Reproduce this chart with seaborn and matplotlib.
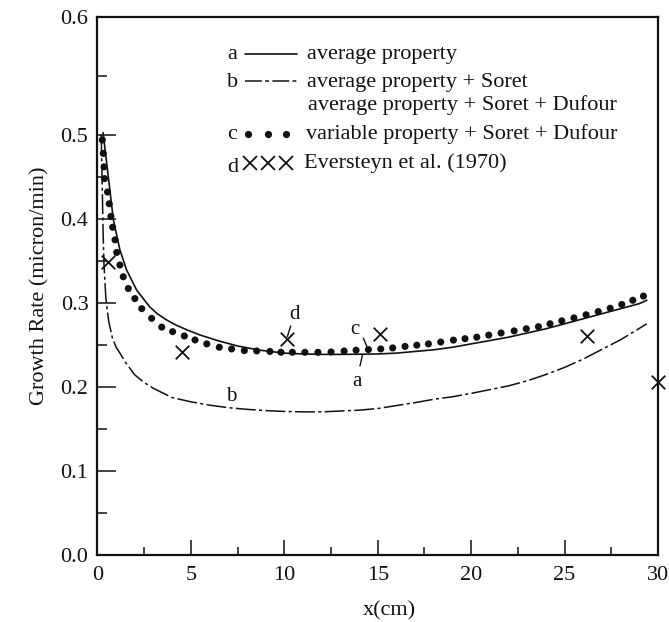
import numpy as np
import pandas as pd
import matplotlib
matplotlib.use("Agg")
import matplotlib.pyplot as plt
import seaborn as sns
from matplotlib.ticker import MultipleLocator, FormatStrFormatter, FuncFormatter

# ---------------- data ----------------
x_a = [0.3, 0.58, 0.85, 1.2, 1.56, 2.1, 2.8, 3.2, 3.7, 4.2, 4.8, 5.5, 6.5, 7.5, 8.7, 10, 11,
       12, 13, 14, 15, 16, 17, 18, 19, 20, 21, 22, 23, 24, 25, 26, 27, 28, 29, 29.4]
y_a = [0.502, 0.450, 0.399, 0.363, 0.339, 0.315, 0.295, 0.287, 0.2795, 0.2735, 0.2676,
       0.2615, 0.2545, 0.2485, 0.2435, 0.240, 0.239, 0.2385, 0.2385, 0.2387, 0.239, 0.240,
       0.242, 0.244, 0.247, 0.251, 0.255, 0.259, 0.264, 0.269, 0.275, 0.281, 0.287, 0.293,
       0.299, 0.303]

x_b = [0.2, 0.25, 0.3, 0.35, 0.45, 0.6, 0.8, 1.0, 1.2, 1.5, 2, 2.5, 3, 4, 5, 6, 7, 8, 9, 10,
       11, 12, 13, 14, 15, 16, 17, 18, 19, 20, 21, 22, 23, 24, 25, 26, 27, 28, 29, 29.4]
y_b = [0.50, 0.445, 0.385, 0.345, 0.305, 0.278, 0.258, 0.247, 0.240, 0.229, 0.214, 0.205,
       0.198, 0.187, 0.182, 0.178, 0.175, 0.173, 0.1715, 0.1705, 0.170, 0.170, 0.171, 0.172,
       0.174, 0.1775, 0.181, 0.185, 0.188, 0.192, 0.1965, 0.201, 0.207, 0.2145, 0.223, 0.233,
       0.2445, 0.256, 0.2695, 0.275]

x_c = [0.26, 0.31, 0.35, 0.38, 0.54, 0.63, 0.72, 0.81, 0.94, 1.03, 1.2, 1.38, 1.65, 2.0,
       2.37, 2.9, 3.44, 4.02, 4.65, 5.22, 5.85, 6.52, 7.18, 7.86, 8.52, 9.23, 9.82, 10.43,
       11.1, 11.8, 12.5, 13.2, 13.84, 14.5, 15.16, 15.8, 16.46, 17.09, 17.71, 18.37, 19.05,
       19.67, 20.3, 20.94, 21.6, 22.3, 22.95, 23.6, 24.22, 24.85, 25.5, 26.15, 26.8, 27.44,
       28.06, 28.65, 29.22]
y_c = [0.494, 0.478, 0.462, 0.448, 0.432, 0.418, 0.403, 0.390, 0.375, 0.360, 0.345, 0.331,
       0.317, 0.305, 0.293, 0.2815, 0.271, 0.2656, 0.2604, 0.2557, 0.251, 0.247, 0.245, 0.243,
       0.2426, 0.242, 0.241, 0.241, 0.241, 0.241, 0.2414, 0.2425, 0.2435, 0.2442, 0.245,
       0.2462, 0.248, 0.2495, 0.251, 0.2532, 0.2555, 0.2572, 0.259, 0.2615, 0.264, 0.2665,
       0.269, 0.2715, 0.275, 0.2785, 0.282, 0.2857, 0.2895, 0.2935, 0.298, 0.303, 0.308]

x_d = [0.56, 4.5, 10.16, 15.12, 26.19, 30.0]
y_d = [0.349, 0.2414, 0.2574, 0.2625, 0.260, 0.205]

legend_letters = ["a", "b", "", "c", "d"]
legend_labels = ["average property", "average property + Soret",
                 "average property + Soret + Dufour",
                 "variable property + Soret + Dufour", "Eversteyn et al. (1970)"]

x_ticks = [0, 5, 10, 15, 20, 25, 30]
y_ticks = [0.0, 0.1, 0.2, 0.3, 0.4, 0.5, 0.6]

# ---------------- style ----------------
sns.set_theme(style="white")
plt.rcParams["font.family"] = ["Liberation Serif", "DejaVu Serif"]
plt.rcParams["text.color"] = "#111111"
plt.rcParams["axes.labelcolor"] = "#111111"
plt.rcParams["xtick.color"] = "#111111"
plt.rcParams["ytick.color"] = "#111111"

INK = "#111111"
FS = 16

fig = plt.figure(figsize=(6.69, 6.22), dpi=100)
ax = fig.add_axes([0.1457, 0.1085, 0.8379, 0.8642])

# piecewise y scale: the top decade (0.5-0.6) is stretched in the original figure
K = 1.406
def fwd(y):
    y = np.asarray(y, dtype=float)
    return np.where(y <= 0.5, y, 0.5 + (y - 0.5) * K)
def inv(y):
    y = np.asarray(y, dtype=float)
    return np.where(y <= 0.5, y, 0.5 + (y - 0.5) / K)
ax.set_yscale("function", functions=(fwd, inv))

df_a = pd.DataFrame({"x": x_a, "y": y_a})
df_b = pd.DataFrame({"x": x_b, "y": y_b})
df_c = pd.DataFrame({"x": x_c, "y": y_c})
df_d = pd.DataFrame({"x": x_d, "y": y_d})

DASHDOT = (0, (13, 2.2, 2, 2.2))
sns.lineplot(data=df_a, x="x", y="y", ax=ax, color=INK, linewidth=1.2, sort=False)
sns.lineplot(data=df_b, x="x", y="y", ax=ax, color=INK, linewidth=1.1, sort=False,
             linestyle=DASHDOT)
sns.scatterplot(data=df_c, x="x", y="y", ax=ax, color=INK, marker="o", s=26,
                edgecolor="none", zorder=3)
sns.scatterplot(data=df_d, x="x", y="y", ax=ax, color=INK, marker="x", s=95,
                linewidth=1.3, zorder=4, clip_on=False)

ax.set_xlim(0, 30)
ax.set_ylim(0, 0.6)
ax.set_xticks(x_ticks)
ax.xaxis.set_minor_locator(MultipleLocator(2.5))
ax.set_yticks(y_ticks)
ax.yaxis.set_minor_locator(MultipleLocator(0.05))
ax.yaxis.set_major_formatter(FormatStrFormatter("%.1f"))
ax.xaxis.set_major_formatter(FuncFormatter(lambda v, p: f"{v:.0f}"))

for s in ax.spines.values():
    s.set_visible(True)
    s.set_linewidth(1.6)
    s.set_color(INK)

ax.tick_params(axis="x", which="major", direction="in", length=10.8, width=1.1,
               labelsize=FS, pad=8.5, top=False, bottom=True)
ax.tick_params(axis="x", which="minor", direction="in", length=5.5, width=1.1,
               top=False, bottom=True)
ax.tick_params(axis="y", which="major", direction="in", length=13.4, width=1.1,
               labelsize=FS, pad=6.5, right=False, left=True)
ax.tick_params(axis="y", which="minor", direction="in", length=7.2, width=1.1,
               right=False, left=True)

ax.set_xlabel("x(cm)", fontsize=FS, labelpad=11.5)
ax.xaxis.label.set_x(0.521)
ax.set_ylabel("Growth Rate (micron/min)", fontsize=FS, labelpad=8)

# ---------------- legend (drawn in axes fraction) ----------------
tA = ax.transAxes
let_x = 0.231
txt_x = [0.373, 0.373, 0.376, 0.372, 0.369]
base_y = [0.922, 0.870, 0.827, 0.7725, 0.7185]
for L, lab, tx, by in zip(legend_letters, legend_labels, txt_x, base_y):
    if L:
        ax.text(let_x, by - (0.006 if L == "d" else 0), L, transform=tA, fontsize=FS,
                ha="left", va="baseline")
    ax.text(tx, by, lab, transform=tA, fontsize=FS, ha="left", va="baseline")

ax.plot([0.263, 0.356], [0.931, 0.931], transform=tA, color=INK, lw=1.2)
ax.plot([0.263, 0.356], [0.880, 0.880], transform=tA, color=INK, lw=1.1,
        linestyle=(0, (11, 2.2, 2.5, 2.2)))
ax.plot([0.2685, 0.304, 0.336], [0.782] * 3, transform=tA, linestyle="none",
        marker="o", ms=5.2, color=INK, mec="none")
ax.plot([0.272, 0.304, 0.336], [0.729] * 3, transform=tA, linestyle="none",
        marker="x", ms=9.5, mew=1.3, color=INK)

# ---------------- curve annotations ----------------
ann_fs = 15
ax.text(13.87, 0.206, "a", fontsize=ann_fs, ha="center", va="center")
ax.plot([14.18, 14.05], [0.2378, 0.2247], color=INK, lw=1.0)
ax.text(13.78, 0.2676, "c", fontsize=ann_fs, ha="center", va="center")
ax.plot([14.23, 14.5], [0.2577, 0.2437], color=INK, lw=1.0)
ax.text(10.57, 0.2855, "d", fontsize=ann_fs, ha="center", va="center")
ax.plot([10.34, 10.16], [0.2723, 0.2596], color=INK, lw=1.0)
ax.text(7.18, 0.188, "b", fontsize=ann_fs, ha="center", va="center")

fig.savefig("out.png", dpi=100, facecolor="white")
